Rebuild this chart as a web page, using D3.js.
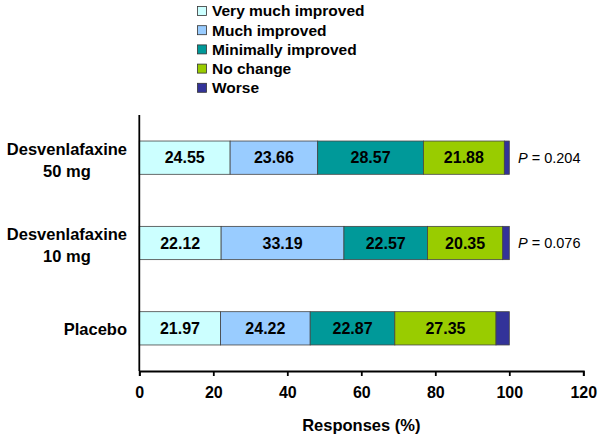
<!DOCTYPE html>
<html><head><meta charset="utf-8">
<script src="https://cdn.jsdelivr.net/npm/d3@7"></script>
<style>body{margin:0;background:#fff}svg{display:block;font-family:"Liberation Sans",Arial,sans-serif}</style>
</head><body><svg id="c" width="600" height="438"></svg>
<script>
const categories = ["Desvenlafaxine\n50 mg", "Desvenlafaxine\n10 mg", "Placebo"];
const seriesNames = ["Very much improved", "Much improved", "Minimally improved", "No change", "Worse"];
const veryMuch = [24.55, 22.12, 21.97];
const much = [23.66, 33.19, 24.22];
const minimally = [28.57, 22.57, 22.87];
const noChange = [21.88, 20.35, 27.35];
const worse = [1.34, 1.77, 3.59];
const pValues = ["0.204", "0.076", null];
const xTicks = [0, 20, 40, 60, 80, 100, 120];
const colors = ["#CCFFFF", "#99CCFF", "#009999", "#99CC00", "#333399"];

const seriesVals = [veryMuch, much, minimally, noChange, worse];
const svg = d3.select("#c");
const x = d3.scaleLinear().domain([0, 120]).range([139.3, 583.3]);
const y = d3.scaleBand().domain(categories).range([115, 371]).paddingInner(0.61).paddingOuter(0.305);

// bars
categories.forEach((c, i) => {
  let cum = 0;
  seriesVals.forEach((s, k) => {
    const v = s[i];
    svg.append("rect").attr("x", x(cum)).attr("y", y(c)).attr("width", x(cum + v) - x(cum))
      .attr("height", y.bandwidth()).attr("fill", colors[k]).attr("stroke", "#444").attr("stroke-width", 0.8);
    if (k < 4) {
      svg.append("text").attr("x", (x(cum) + x(cum + v)) / 2).attr("y", y(c) + y.bandwidth() / 2)
        .attr("dy", "0.35em").attr("text-anchor", "middle").attr("font-weight", "bold").attr("font-size", 16)
        .text(v.toFixed(2));
    }
    cum += v;
  });
  if (pValues[i]) {
    const t = svg.append("text").attr("x", 518).attr("y", y(c) + y.bandwidth() / 2).attr("dy", "0.35em")
      .attr("font-size", 14.5);
    t.append("tspan").attr("font-style", "italic").text("P");
    t.append("tspan").text(" = " + pValues[i]);
  }
});

// x axis
const xa = svg.append("g").attr("transform", "translate(0,371)")
  .call(d3.axisBottom(x).tickValues(xTicks).tickSize(5).tickPadding(11).tickFormat(d3.format("d")));
xa.select(".domain").attr("stroke", "#000").attr("stroke-width", 1.8);
xa.selectAll(".tick line").attr("stroke", "#000").attr("stroke-width", 1.8);
xa.selectAll(".tick text").attr("font-size", 16).attr("font-weight", "bold").attr("fill", "#000")
  .attr("font-family", "Liberation Sans, Arial, sans-serif");
// y axis line
svg.append("line").attr("x1", x(0)).attr("x2", x(0)).attr("y1", 115).attr("y2", 371)
  .attr("stroke", "#000").attr("stroke-width", 1.8);

// category labels
categories.forEach(c => {
  const lines = c.split("\n");
  const g = svg.append("g");
  const cy = y(c) + y.bandwidth() / 2 + (lines.length > 1 ? 2.5 : 0.5);
  const lh = 22;
  const texts = lines.map((l, j) => g.append("text").attr("y", cy + (j - (lines.length - 1) / 2) * lh).attr("dy", "0.35em")
    .attr("font-size", 16.5).attr("font-weight", "bold").attr("text-anchor", "middle").text(l));
  const w = d3.max(texts, t => t.node().getComputedTextLength());
  texts.forEach(t => t.attr("x", 127 - w / 2));
});

// axis title
svg.append("text").attr("x", x(60)).attr("y", 425).attr("dy", "0.35em").attr("text-anchor", "middle")
  .attr("font-size", 16.5).attr("font-weight", "bold").text("Responses (%)");

// legend
seriesNames.forEach((n, k) => {
  const ly = 11 + k * 19.2;
  svg.append("rect").attr("x", 197.5).attr("y", ly - 4.5).attr("width", 9).attr("height", 9)
    .attr("fill", colors[k]).attr("stroke", "#333").attr("stroke-width", 0.8);
  svg.append("text").attr("x", 212).attr("y", ly).attr("dy", "0.35em").attr("font-size", 15.5)
    .attr("font-weight", "bold").text(n);
});
</script></body></html>
